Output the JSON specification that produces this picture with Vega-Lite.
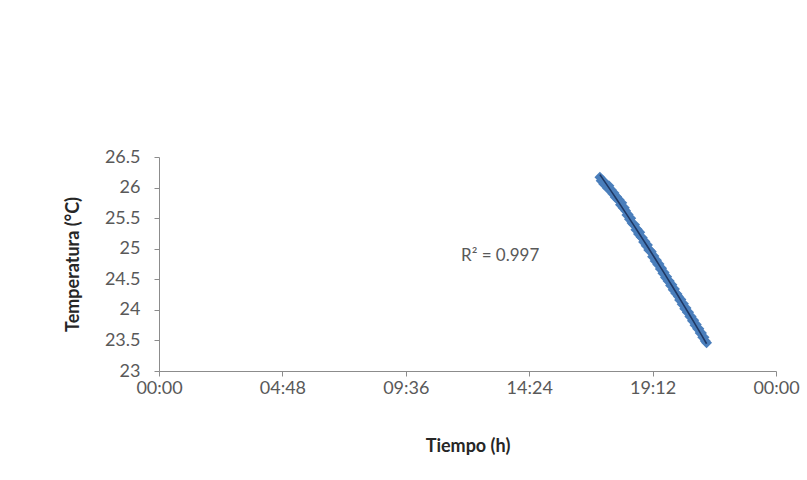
{
  "$schema": "https://vega.github.io/schema/vega-lite/v6.json",
  "width": 617,
  "height": 214,
  "autosize": {"type": "none"},
  "padding": {"left": 159, "top": 157, "right": 31, "bottom": 109},
  "background": "white",
  "config": {
    "view": {"stroke": null},
    "font": "Lato",
    "axis": {
      "grid": false,
      "domainColor": "#8c8c8c",
      "tickColor": "#8c8c8c",
      "labelColor": "#595959",
      "labelFont": "Lato",
      "titleFont": "Lato",
      "titleColor": "#262626",
      "labelOverlap": false,
      "labelFlush": false
    }
  },
  "datasets": {
    "temp": [
      {"hora": 17.15, "temperatura": 26.17},
      {"hora": 17.20, "temperatura": 26.11},
      {"hora": 17.25, "temperatura": 26.12},
      {"hora": 17.30, "temperatura": 26.06},
      {"hora": 17.35, "temperatura": 26.08},
      {"hora": 17.40, "temperatura": 26.04},
      {"hora": 17.45, "temperatura": 25.99},
      {"hora": 17.50, "temperatura": 26.03},
      {"hora": 17.55, "temperatura": 25.96},
      {"hora": 17.60, "temperatura": 25.96},
      {"hora": 17.65, "temperatura": 25.90},
      {"hora": 17.70, "temperatura": 25.91},
      {"hora": 17.75, "temperatura": 25.84},
      {"hora": 17.80, "temperatura": 25.85},
      {"hora": 17.85, "temperatura": 25.80},
      {"hora": 17.90, "temperatura": 25.80},
      {"hora": 17.95, "temperatura": 25.72},
      {"hora": 18.00, "temperatura": 25.75},
      {"hora": 18.05, "temperatura": 25.67},
      {"hora": 18.10, "temperatura": 25.67},
      {"hora": 18.15, "temperatura": 25.62},
      {"hora": 18.20, "temperatura": 25.55},
      {"hora": 18.25, "temperatura": 25.56},
      {"hora": 18.30, "temperatura": 25.48},
      {"hora": 18.35, "temperatura": 25.50},
      {"hora": 18.40, "temperatura": 25.42},
      {"hora": 18.45, "temperatura": 25.40},
      {"hora": 18.50, "temperatura": 25.39},
      {"hora": 18.55, "temperatura": 25.31},
      {"hora": 18.60, "temperatura": 25.32},
      {"hora": 18.65, "temperatura": 25.24},
      {"hora": 18.70, "temperatura": 25.27},
      {"hora": 18.75, "temperatura": 25.19},
      {"hora": 18.80, "temperatura": 25.18},
      {"hora": 18.85, "temperatura": 25.11},
      {"hora": 18.90, "temperatura": 25.12},
      {"hora": 18.95, "temperatura": 25.05},
      {"hora": 19.00, "temperatura": 25.06},
      {"hora": 19.05, "temperatura": 24.98},
      {"hora": 19.10, "temperatura": 24.97},
      {"hora": 19.15, "temperatura": 24.95},
      {"hora": 19.20, "temperatura": 24.87},
      {"hora": 19.25, "temperatura": 24.88},
      {"hora": 19.30, "temperatura": 24.80},
      {"hora": 19.35, "temperatura": 24.81},
      {"hora": 19.40, "temperatura": 24.74},
      {"hora": 19.45, "temperatura": 24.75},
      {"hora": 19.50, "temperatura": 24.67},
      {"hora": 19.55, "temperatura": 24.68},
      {"hora": 19.60, "temperatura": 24.60},
      {"hora": 19.65, "temperatura": 24.61},
      {"hora": 19.70, "temperatura": 24.53},
      {"hora": 19.75, "temperatura": 24.54},
      {"hora": 19.80, "temperatura": 24.47},
      {"hora": 19.85, "temperatura": 24.47},
      {"hora": 19.90, "temperatura": 24.40},
      {"hora": 19.95, "temperatura": 24.41},
      {"hora": 20.00, "temperatura": 24.33},
      {"hora": 20.05, "temperatura": 24.34},
      {"hora": 20.10, "temperatura": 24.27},
      {"hora": 20.15, "temperatura": 24.26},
      {"hora": 20.20, "temperatura": 24.22},
      {"hora": 20.25, "temperatura": 24.16},
      {"hora": 20.30, "temperatura": 24.17},
      {"hora": 20.35, "temperatura": 24.09},
      {"hora": 20.40, "temperatura": 24.10},
      {"hora": 20.45, "temperatura": 24.02},
      {"hora": 20.50, "temperatura": 24.03},
      {"hora": 20.55, "temperatura": 23.96},
      {"hora": 20.60, "temperatura": 23.96},
      {"hora": 20.65, "temperatura": 23.89},
      {"hora": 20.70, "temperatura": 23.89},
      {"hora": 20.75, "temperatura": 23.82},
      {"hora": 20.80, "temperatura": 23.83},
      {"hora": 20.85, "temperatura": 23.75},
      {"hora": 20.90, "temperatura": 23.76},
      {"hora": 20.95, "temperatura": 23.69},
      {"hora": 21.00, "temperatura": 23.69},
      {"hora": 21.05, "temperatura": 23.62},
      {"hora": 21.10, "temperatura": 23.62},
      {"hora": 21.15, "temperatura": 23.55},
      {"hora": 21.20, "temperatura": 23.55},
      {"hora": 21.25, "temperatura": 23.49},
      {"hora": 21.30, "temperatura": 23.46}
    ],
    "etiqueta": [
      {"hora": 13.27, "temperatura": 24.88, "texto": "R² = 0.997"}
    ]
  },
  "encoding": {
    "x": {
      "field": "hora", "type": "quantitative",
      "scale": {"domain": [0, 24], "nice": false, "zero": false},
      "axis": {
        "values": [0, 4.8, 9.6, 14.4, 19.2, 24],
        "labelExpr": "pad(floor(datum.value % 24), 2, '0', 'left') + ':' + pad(round((datum.value % 1) * 60), 2, '0', 'left')",
        "tickSize": 5,
        "labelPadding": 3,
        "labelFontSize": 18,
        "title": "Tiempo (h)",
        "titleFontSize": 18,
        "titleFontWeight": "bold",
        "titlePadding": 40
      }
    },
    "y": {
      "field": "temperatura", "type": "quantitative",
      "scale": {"domain": [23, 26.5], "nice": false, "zero": false},
      "axis": {
        "values": [23, 23.5, 24, 24.5, 25, 25.5, 26, 26.5],
        "labelExpr": "format(datum.value, '~g')",
        "tickSize": 5,
        "labelPadding": 14,
        "labelFontSize": 18,
        "title": "Temperatura (°C)",
        "titleFontSize": 18,
        "titleFontWeight": "bold",
        "titlePadding": 22
      }
    }
  },
  "layer": [
    {
      "data": {"name": "temp"},
      "mark": {"type": "point", "shape": "diamond", "filled": true, "size": 120, "color": "#4a7ebb", "opacity": 1}
    },
    {
      "data": {"name": "temp"},
      "transform": [
        {"regression": "temperatura", "on": "hora", "method": "poly", "order": 2}
      ],
      "mark": {"type": "line", "color": "#1f3864", "strokeWidth": 1.6}
    },
    {
      "data": {"name": "etiqueta"},
      "mark": {"type": "text", "fontSize": 17, "color": "#595959", "font": "Lato"},
      "encoding": {
        "text": {"field": "texto"}
      }
    }
  ]
}
